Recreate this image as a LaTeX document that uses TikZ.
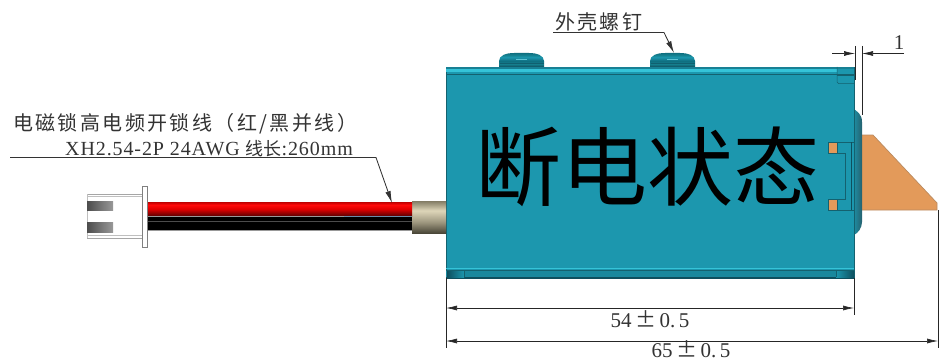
\documentclass[tikz,border=0pt]{standalone}
\usepackage{fontspec}
\usetikzlibrary{arrows.meta,calc}
\setmainfont{Liberation Serif}
\newfontfamily\numfont[LetterSpace=4.5]{Liberation Serif}
\newfontfamily\cjk{Noto Sans CJK SC}
\newfontfamily\cjkwide[LetterSpace=12]{Noto Sans CJK SC}
\definecolor{shell}{HTML}{1C97AE}
\definecolor{shellhi}{HTML}{35C3D8}
\definecolor{shelldk}{HTML}{0E4F5E}
\definecolor{edgec}{HTML}{14616F}
\definecolor{bolt}{HTML}{B98A60}
\definecolor{boltfill}{HTML}{E39A5A}
\definecolor{scrA}{HTML}{15808F}
\definecolor{scrB}{HTML}{0F6F80}
\definecolor{slvA}{HTML}{4A4738}
\definecolor{slvB}{HTML}{9E977F}
\definecolor{slvC}{HTML}{DED6B9}
\definecolor{slvD}{HTML}{827C64}
\definecolor{redA}{HTML}{5A0000}
\definecolor{redB}{HTML}{E10000}
\definecolor{redC}{HTML}{FF0A0A}
\definecolor{redD}{HTML}{BE0000}
\definecolor{steelc}{HTML}{6A8CA8}
\pgfdeclareverticalshading{screwsh}{100bp}{color(0bp)=(shelldk); color(25bp)=(shelldk); color(36bp)=(scrA); color(47bp)=(scrB); color(60bp)=(shell); color(68bp)=(scrA); color(75bp)=(scrB); color(100bp)=(scrB)}
\pgfdeclareverticalshading{sleevesh}{100bp}{color(0bp)=(slvA); color(25bp)=(slvA); color(42bp)=(slvB); color(60bp)=(slvC); color(75bp)=(slvD); color(100bp)=(slvD)}
\pgfdeclareverticalshading{redsh}{100bp}{color(0bp)=(redA); color(25bp)=(redA); color(50bp)=(redB); color(65bp)=(redC); color(75bp)=(redD); color(100bp)=(redD)}
\tikzset{
  x=1pt,y=-1pt,
  dimline/.style={draw=black!85,line width=0.65pt},
  ext/.style={draw=black!85,line width=0.65pt},
  dimarrow/.style={dimline,{Latex[length=11pt,width=5pt]}-{Latex[length=11pt,width=5pt]}},
  leader/.style={draw=black!80,line width=0.85pt,-{Latex[length=12pt,width=5.5pt]}},
  panel/.style={draw=edgec,line width=0.5pt},
  lbl/.style={inner sep=0pt,anchor=base west,text=black!80},
  dimlbl/.style={inner sep=0pt,anchor=base,text=black!80,font=\fontsize{21}{21}\selectfont},
}
\begin{document}
\begin{tikzpicture}
\useasboundingbox (0,0) rectangle (939,361);
% screws
\foreach \n/\sx in {screwa/499,screwb/650}{
  \path[shading=screwsh]
    (\sx,67) -- (\sx,61) .. controls (\sx,55.5) and (\sx+7,53) .. (\sx+15,53) -- (\sx+30,53)
    .. controls (\sx+38,53) and (\sx+45,55.5) .. (\sx+45,61) -- (\sx+45,67) -- cycle;
  \draw[shellhi!70!white,line width=1pt,opacity=.8] (\sx+17,59.5) -- (\sx+28,59.5);
  \draw[shelldk,line width=0.4pt,opacity=.6] (\sx+0.5,63) -- (\sx+44.5,63);
  \coordinate (\n) at (\sx+24,53);
}
% orange slide bolt
\path[fill=boltfill,draw=bolt,line width=0.7pt] (860,135) -- (873,135) -- (937,203) -- (937,210) -- (860,210) -- cycle;
% right cap
\path[left color=shell,right color=shelldk!90,draw=none] (852,108) .. controls (857,111) and (862,114) .. (862,122)
  -- (862,222) .. controls (862,228) and (858,233) .. (854,235) -- (852,235) -- cycle;
% body
\path[fill=shell,panel] (446,67) rectangle (854,278);
\path[fill=shell!85!black,draw=none] (446,67) rectangle (854,69);
\path[fill=shellhi,draw=none] (446,68.5) rectangle (837,72);
\draw[edgec,line width=0.6pt] (446,74) -- (854,74);
\draw[shellhi,line width=0.6pt] (446,268) -- (854,268);
\path[fill=shell!90!black,draw=none] (446,270) rectangle (854,277);
\draw[edgec,line width=0.6pt] (446,270.5) -- (854,270.5);
\path[fill=shelldk,draw=none] (446,277) rectangle (854,279);
\path[left color=shelldk,right color=shell,draw=none] (447,271) rectangle (464,277);
\path[left color=shell,right color=shelldk,draw=none] (836,271) rectangle (854,277);
\draw[edgec,line width=0.4pt] (464,271) -- (464,277) (836,271) -- (836,277);
% top right latch outline
\draw[edgec,line width=0.5pt,rounded corners=1.5pt] (837,67) -- (837,83.5) -- (854,83.5);
\draw[edgec,line width=0.5pt] (837,75) -- (854,75);
% window detail
\path[fill=boltfill,draw=none] (828,142) rectangle (837,153);
\path[fill=boltfill,draw=none] (828,199) rectangle (837,210);
\draw[edgec,line width=0.5pt] (837,142) -- (854,142)  (837,210) -- (854,210)
  (837,153) -- (845,153) -- (845,199) -- (837,199)
  (828,142) rectangle (837,153) (828,199) rectangle (837,210);
\draw[shelldk,line width=0.8pt] (851,142) -- (851,210);
% large text
\node[inner sep=0pt,anchor=center,text=black,font={\cjk\fontsize{86}{86}\selectfont}] (state) at (647,167) {断电状态};
% sleeve
\path[shading=sleevesh] (412,201) rectangle (446,233);
% wires
\path[shading=redsh] (147,202) rectangle (412,216);
\fill[black] (147,217) rectangle (412,230);
\draw[black!40,line width=0.6pt] (147,216.5) -- (344,216.5) (147,230.5) -- (412,230.5);
\draw[black!70,line width=0.3pt] (147,221.5) -- (412,221.5);
\draw[steelc,line width=0.6pt] (344,216.5) -- (412,216.5);
\coordinate (wirered) at (392,203);
% connector
\path[fill=white,draw=none] (87,194) rectangle (142,238);
\draw[black!35,line width=0.6pt] (87,194) -- (142,194) (87,238) -- (142,238);
\draw[black!25,line width=0.5pt] (87,196.5) -- (142,196.5) (87,235.5) -- (142,235.5) (87,194) -- (87,238);
\path[left color=black!70,right color=black!40,draw=none] (87,201) rectangle (113,210);
\path[left color=black!70,right color=black!40,draw=none] (87,222) rectangle (113,232);
\path[fill=white,draw=black!50,line width=0.7pt] (142,186) rectangle (147,247);
% labels
\node[lbl,font={\cjkwide\fontsize{20}{20}\selectfont}] (title) at (13,130.5) {电磁锁高电频开锁线（红/黑并线）};
\node[lbl,font=\numfont\fontsize{20}{20}\selectfont] (spec) at (65,155) {XH2.54-2P 24AWG {\cjk\fontsize{18}{18}\selectfont 线长}:260mm};
\node[lbl,font={\cjkwide\fontsize{20}{20}\selectfont}] (shelltxt) at (555,29.5) {外壳螺钉};
% leaders
\coordinate (la) at (10,157.5);
\coordinate (lb) at (376,157.5);
\draw[leader] (la) -- (lb) -- (wirered);
\coordinate (sa) at (553,32.5);
\coordinate (sb) at (664,32.5);
\draw[leader] (sa) -- (sb) -- (screwb);
% dimension 1
\coordinate (d1a) at (855,53.5);
\coordinate (d1b) at (862,53.5);
\coordinate (d1c) at (832,53.5);
\coordinate (d1d) at (904,53.5);
\draw[ext] (855,46) -- (855,80);
\draw[ext] (862,46) -- (862,115);
\draw[dimline,-{Latex[length=11pt,width=5pt]}] (d1c) -- (d1a);
\draw[dimline,-{Latex[length=11pt,width=5pt]}] (d1d) -- (d1b);
\node[dimlbl] (one) at (899,50) {1};
% dimension 54
\coordinate (d54a) at (446,308);
\coordinate (d54b) at (854,308);
\draw[ext] (446,278) -- (446,348);
\draw[ext] (854,278) -- (854,315);
\draw[dimarrow] (d54a) -- (d54b);
\node[dimlbl] (n54) at (650,327) {54{\cjk\,±\,}0.\,5};
% dimension 65
\coordinate (d65a) at (446,341);
\coordinate (d65b) at (938,341);
\draw[ext] (938,210) -- (938,348);
\draw[dimarrow] (d65a) -- (d65b);
\node[dimlbl] (n65) at (691,357) {65{\cjk\,±\,}0.\,5};
\end{tikzpicture}
\end{document}
